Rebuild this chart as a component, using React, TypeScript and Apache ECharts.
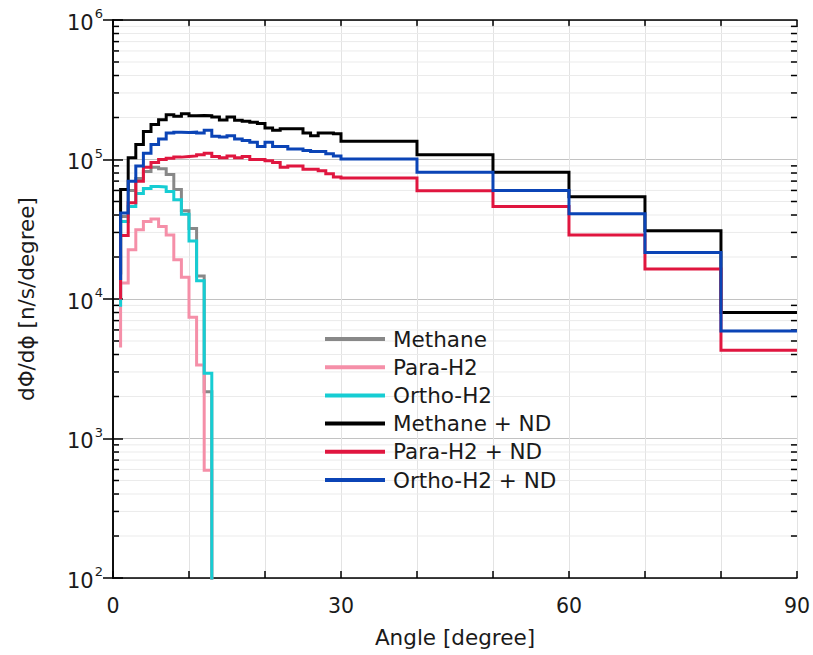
import React, { useEffect, useRef } from "react";
import * as echarts from "echarts";

// Angles (degrees) – step edges
const fineAngles = [1, 2, 3, 4, 5, 6, 7, 8, 9, 10, 11, 12, 13, 14];
const ndAngles = [
  1, 2, 3, 4, 5, 6, 7, 8, 9, 10, 11, 12, 13, 14, 15, 16, 17, 18, 19, 20,
  21, 22, 23, 24, 25, 26, 27, 28, 29, 30, 40, 50, 60, 70, 80, 90,
];

// Series values dΦ/dϕ [n/s/degree] (value at each edge, step "start")
const methane = [1.0e4, 3.9e4, 6.0e4, 7.3e4, 8.2e4, 8.8e4, 8.6e4, 7.8e4, 6.1e4, 4.3e4, 3.2e4, 1.46e4, 2.16e3, 1];
const paraH2 = [4.5e3, 1.3e4, 2.25e4, 3.13e4, 3.6e4, 3.74e4, 3.31e4, 2.88e4, 1.91e4, 1.43e4, 7.4e3, 3.37e3, 593, 1];
const orthoH2 = [8.8e3, 3.6e4, 4.6e4, 5.7e4, 6.2e4, 6.4e4, 6.35e4, 5.9e4, 5.15e4, 4.05e4, 2.6e4, 1.35e4, 2.93e3, 1];

const methaneND = [
  1.5e4, 6.1e4, 1.03e5, 1.28e5, 1.59e5, 1.78e5, 1.93e5, 2.09e5, 2.04e5, 2.13e5,
  2.06e5, 2.07e5, 2.06e5, 2.02e5, 1.92e5, 2.02e5, 1.91e5, 1.88e5, 1.85e5, 1.81e5,
  1.68e5, 1.62e5, 1.66e5, 1.66e5, 1.66e5, 1.55e5, 1.48e5, 1.55e5, 1.55e5, 1.53e5,
  1.35e5, 1.08e5, 8.1e4, 5.4e4, 3.08e4, 8.0e3,
];
const paraH2ND = [
  9.9e3, 2.85e4, 4.9e4, 6.97e4, 8.8e4, 9.5e4, 1.0e5, 1.02e5, 1.04e5, 1.05e5,
  1.06e5, 1.08e5, 1.11e5, 1.05e5, 1.03e5, 1.06e5, 1.03e5, 1.05e5, 1.0e5, 1.0e5,
  9.8e4, 9.5e4, 8.8e4, 9.0e4, 9.0e4, 8.5e4, 8.5e4, 8.3e4, 7.9e4, 7.5e4,
  7.36e4, 5.97e4, 4.6e4, 2.88e4, 1.64e4, 4.3e3,
];
const orthoH2ND = [
  1.37e4, 4.13e4, 6.97e4, 9.0e4, 1.11e5, 1.28e5, 1.40e5, 1.55e5, 1.57e5, 1.56e5,
  1.57e5, 1.55e5, 1.62e5, 1.47e5, 1.45e5, 1.48e5, 1.40e5, 1.37e5, 1.33e5, 1.24e5,
  1.33e5, 1.24e5, 1.24e5, 1.19e5, 1.19e5, 1.16e5, 1.14e5, 1.14e5, 1.10e5, 1.06e5,
  1.01e5, 8.1e4, 6.0e4, 4.08e4, 2.15e4, 5.9e3,
];

const seriesNames = ["Methane", "Para-H2", "Ortho-H2", "Methane + ND", "Para-H2 + ND", "Ortho-H2 + ND"];
const seriesColors = ["#888888", "#f58fa8", "#16cdd3", "#000000", "#e0163f", "#0b44b6"];

// Minor (2..9 × decade) y gridline values
const minorYValues = [
  200, 300, 400, 500, 600, 700, 800, 900,
  2000, 3000, 4000, 5000, 6000, 7000, 8000, 9000,
  20000, 30000, 40000, 50000, 60000, 70000, 80000, 90000,
  200000, 300000, 400000, 500000, 600000, 700000, 800000, 900000,
];

const FONT = "DejaVu Sans";
const TXT = "#1a1a1a";

const pairs = (xs: number[], ys: number[]) => xs.map((x, i) => [x, ys[i]]);

export default function App() {
  const ref = useRef<HTMLDivElement>(null);

  useEffect(() => {
    document.body.style.margin = "0";
    if (!ref.current) return;
    const chart = echarts.init(ref.current, undefined, { renderer: "svg" });

    const lineData = [
      pairs(fineAngles, methane),
      pairs(fineAngles, paraH2),
      pairs(fineAngles, orthoH2),
      pairs(ndAngles, methaneND),
      pairs(ndAngles, paraH2ND),
      pairs(ndAngles, orthoH2ND),
    ];

    const supLabel = (v: number) => {
      const e = Math.round(Math.log10(v));
      return "{b|10}{s|" + e + "}";
    };

    const yCommon = {
      type: "log" as const,
      logBase: 10,
      min: 100,
      max: 1000000,
      axisLine: { show: true, lineStyle: { color: "#000", width: 1.5 } },
      axisTick: { show: true, inside: true, length: 10, lineStyle: { color: "#000", width: 1.5 } },
    };

    const option: any = {
      animation: false,
      backgroundColor: "#ffffff",
      grid: { left: 113, right: 14, top: 20, bottom: 77, containLabel: false },
      legend: {
        data: seriesNames,
        orient: "vertical",
        left: 320,
        top: 323,
        icon: "rect",
        itemWidth: 60,
        itemHeight: 4,
        itemGap: 6.2,
        textStyle: { fontSize: 21.5, fontFamily: FONT, color: TXT, lineHeight: 20, padding: [0, 0, 0, 3] },
      },
      xAxis: [
        {
          type: "value",
          min: 0,
          max: 90,
          interval: 10,
          name: "Angle [degree]",
          nameLocation: "middle",
          nameGap: 48,
          nameTextStyle: { fontSize: 21.5, fontFamily: FONT, color: TXT },
          axisLine: { show: true, onZero: false, lineStyle: { color: "#000", width: 1.5 } },
          axisTick: { show: true, inside: true, length: 7, lineStyle: { color: "#000", width: 1.5 } },
          axisLabel: {
            fontSize: 20.5,
            fontFamily: FONT,
            color: TXT,
            margin: 17,
            formatter: (v: number) => (v % 30 === 0 ? String(v) : ""),
          },
          splitLine: { show: true, lineStyle: { color: "#e3e3e3", width: 1 } },
        },
        {
          type: "value",
          position: "top",
          min: 0,
          max: 90,
          interval: 10,
          axisLine: { show: true, onZero: false, lineStyle: { color: "#000", width: 1.5 } },
          axisTick: { show: true, inside: true, length: 7, lineStyle: { color: "#000", width: 1.5 } },
          axisLabel: { show: false },
          splitLine: { show: false },
        },
      ],
      yAxis: [
        {
          ...yCommon,
          position: "left",
          name: "dΦ/dϕ [n/s/degree]",
          nameLocation: "middle",
          nameGap: 76,
          nameTextStyle: { fontSize: 21.5, fontFamily: FONT, color: TXT },
          axisLabel: {
            margin: 10,
            formatter: supLabel,
            rich: {
              b: { fontSize: 21, fontFamily: FONT, color: TXT, lineHeight: 26, verticalAlign: "bottom" },
              s: { fontSize: 13, fontFamily: FONT, color: TXT, lineHeight: 26, verticalAlign: "top", padding: [0, 0, 10, 1] },
            },
          },
          splitLine: { show: true, lineStyle: { color: "#c2c2c2", width: 1 } },
        },
        {
          ...yCommon,
          position: "right",
          axisLabel: { show: false },
          splitLine: { show: false },
        },
      ],
      series: [
        {
          type: "custom",
          name: "minor-grid",
          xAxisIndex: 0,
          yAxisIndex: 0,
          silent: true,
          z: 1,
          data: minorYValues.map((v) => [0, v]),
          encode: { x: 0, y: 1 },
          renderItem: (_params: any, api: any) => {
            const v = api.value(1);
            const p0 = api.coord([0, v]);
            const p1 = api.coord([90, v]);
            return {
              type: "group",
              children: [
                {
                  type: "line",
                  shape: { x1: p0[0], y1: p0[1], x2: p1[0], y2: p1[1] },
                  style: { stroke: "#ebebeb", lineWidth: 1 },
                },
                {
                  type: "line",
                  shape: { x1: p0[0], y1: p0[1], x2: p0[0] + 6, y2: p0[1] },
                  style: { stroke: "#000", lineWidth: 1.5 },
                },
                {
                  type: "line",
                  shape: { x1: p1[0] - 6, y1: p1[1], x2: p1[0], y2: p1[1] },
                  style: { stroke: "#000", lineWidth: 1.5 },
                },
              ],
            };
          },
        },
        ...seriesNames.map((name, i) => ({
          type: "line",
          name,
          step: "start",
          data: lineData[i],
          showSymbol: false,
          symbol: "none",
          clip: true,
          z: 3 + i,
          color: seriesColors[i],
          lineStyle: { color: seriesColors[i], width: 3, join: "miter" },
        })),
      ],
    };

    chart.setOption(option);
    return () => chart.dispose();
  }, []);

  return <div ref={ref} style={{ width: 813, height: 655 }} />;
}
